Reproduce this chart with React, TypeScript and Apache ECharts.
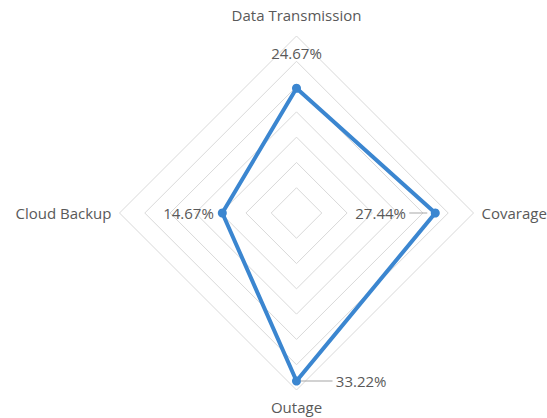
import React, { useEffect, useRef } from "react";
import * as echarts from "echarts";

// Order follows ECharts radar's counter-clockwise layout: top, left, bottom, right
const indicators = ["Data Transmission", "Cloud Backup", "Outage", "Covarage"];
const values = [24.67, 14.67, 33.22, 27.44];
const axisMax = 35;
const splitCount = 7;

const verticalNames = ["Data Transmission"];
const bottomNames = ["Outage"];

const topLabels = [24.67];
const leftPlainLabels = [14.67];
const leftLineLabels = [27.44];
const rightLineLabels = [33.22];

const FONT = "Open Sans";
const TEXT_COLOR = "#595959";
const BLUE = "#3b86d0";
const FS = 15;

function fmt(v: number) {
  return v.toFixed(2) + "%";
}

export default function App() {
  const ref = useRef<HTMLDivElement>(null);
  useEffect(() => {
    if (!ref.current) return;
    const chart = echarts.init(ref.current, null, { renderer: "svg" });
    const hiddenBase = {
      type: "radar",
      symbol: "circle",
      symbolSize: 8,
      silent: true,
      z: 3,
      lineStyle: { width: 0, opacity: 0 },
      itemStyle: { color: "rgba(0,0,0,0)" },
    };
    const rich = {
      v: { fontFamily: FONT, fontSize: FS, color: TEXT_COLOR },
      l: { width: 18, height: 1, backgroundColor: "#a6a6a6" },
      l2: { width: 32, height: 1, backgroundColor: "#a6a6a6" },
    };
    const nameRich = {
      t: { fontFamily: FONT, fontSize: FS, color: TEXT_COLOR, padding: [0, 0, 6, 0] },
      b: { fontFamily: FONT, fontSize: FS, color: TEXT_COLOR, padding: [1, 0, 0, 0] },
      h: { fontFamily: FONT, fontSize: FS, color: TEXT_COLOR },
    };
    chart.setOption({
      animation: false,
      backgroundColor: "#ffffff",
      radar: {
        center: [296.5, 213],
        radius: 177,
        startAngle: 90,
        shape: "polygon",
        splitNumber: splitCount,
        indicator: indicators.map((name) => ({ name, max: axisMax, min: 0 })),
        nameGap: 8,
        axisName: {
          color: TEXT_COLOR,
          fontFamily: FONT,
          fontSize: FS,
          formatter: (name: string) =>
            verticalNames.includes(name)
              ? `{t|${name}}`
              : bottomNames.includes(name)
              ? `{b|${name}}`
              : `{h|${name}}`,
          rich: nameRich,
        },
        axisLine: { show: false },
        axisTick: { show: false },
        axisLabel: { show: false },
        splitArea: { show: false },
        splitLine: { lineStyle: { color: "#d9d9d9", width: 1 } },
      },
      series: [
        {
          type: "radar",
          symbol: "circle",
          symbolSize: 9,
          z: 2,
          lineStyle: { color: BLUE, width: 4 },
          itemStyle: { color: BLUE },
          data: [
            {
              value: values,
              label: {
                show: true,
                position: "left",
                distance: 4,
                formatter: (p: any) => (leftPlainLabels.includes(p.value) ? `{v|${fmt(p.value)}}` : ""),
                rich,
              },
            },
          ],
        },
        {
          ...hiddenBase,
          data: [
            {
              value: values,
              label: {
                show: true,
                position: "top",
                distance: 24,
                formatter: (p: any) => (topLabels.includes(p.value) ? `{v|${fmt(p.value)}}` : ""),
                rich,
              },
            },
          ],
        },
        {
          ...hiddenBase,
          data: [
            {
              value: values,
              label: {
                show: true,
                position: "left",
                distance: 4,
                formatter: (p: any) => (leftLineLabels.includes(p.value) ? `{v|${fmt(p.value)}} {l|}` : ""),
                rich,
              },
            },
          ],
        },
        {
          ...hiddenBase,
          data: [
            {
              value: values,
              label: {
                show: true,
                position: "right",
                distance: 0,
                formatter: (p: any) => (rightLineLabels.includes(p.value) ? `{l2|} {v|${fmt(p.value)}}` : ""),
                rich,
              },
            },
          ],
        },
      ],
    });
    return () => chart.dispose();
  }, []);
  return (
    <div
      ref={ref}
      style={{ position: "absolute", left: 0, top: 0, width: 547, height: 418 }}
    />
  );
}
